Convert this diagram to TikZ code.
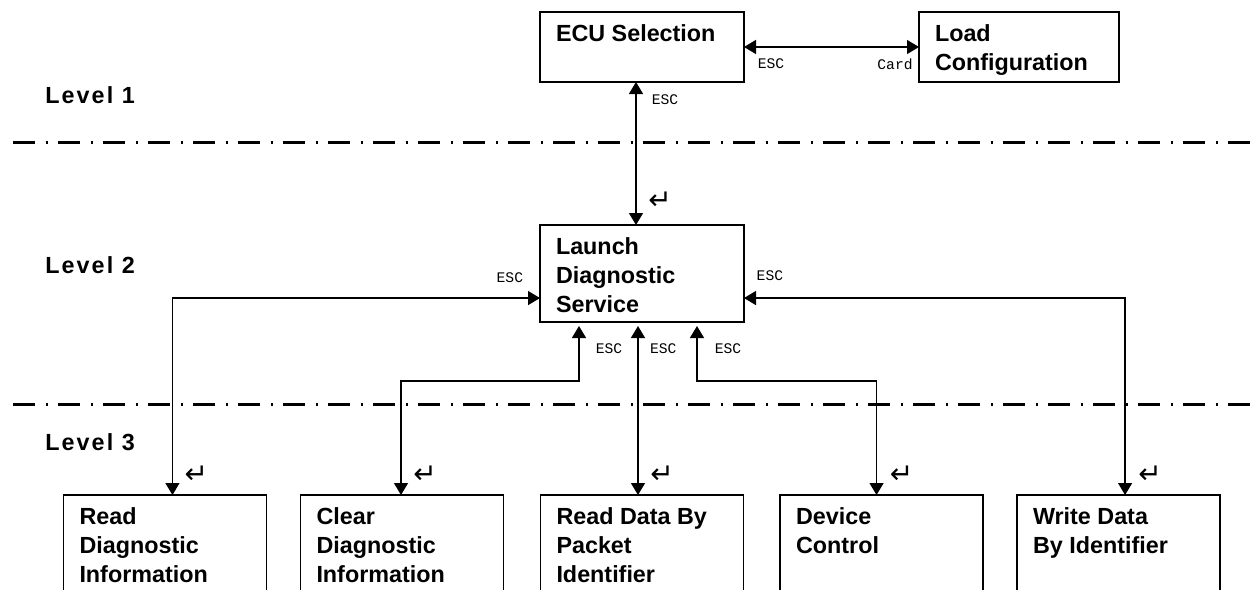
\documentclass[tikz,border=0pt]{standalone}
\usepackage{fontspec}
\setmainfont{Liberation Sans}
\newfontfamily\escfont{Liberation Mono}
\newfontfamily\retfont{DejaVu Sans}
\newfontfamily\levelfont[LetterSpace=9]{Liberation Sans}
\usetikzlibrary{arrows.meta, positioning}
\tikzset{
    box/.style={draw, line width=1pt, inner xsep=12pt, inner ysep=6.75pt, outer sep=0pt,
        font=\fontsize{17.5}{21.75}\selectfont\bfseries},
    link/.style={{Triangle[length=9pt,width=10.5pt]}-{Triangle[length=9pt,width=10.5pt]}, line width=1pt},
    esc/.style={inner sep=0pt, font=\escfont\fontsize{11}{11}\selectfont},
    ret/.style={inner sep=0pt, font=\retfont\fontsize{21}{21}\selectfont},
    level/.style={anchor=west, inner sep=0pt, font=\levelfont\fontsize{17.5}{21.75}\selectfont\bfseries},
    sep/.style={line width=2.25pt, dash pattern=on 16.5pt off 8pt on 1.5pt off 7.75pt}
}
\newcommand{\boxtext}[3]{\parbox[t][#1][t]{#2}{\strut #3}}

\begin{document}
\begin{tikzpicture}[x=0.75pt, y=-0.75pt]
    \useasboundingbox (0,0) rectangle (1256,589);
    \clip (0,0) rectangle (1256,589);

    \draw[sep] (13,142) -- (1256,142);
    \draw[sep] (13,404) -- (1256,404);
    \node[level] (lv1) at (45,95)  {Level 1};
    \node[level] (lv2) at (45,265) {Level 2};
    \node[level] (lv3) at (45,442) {Level 3};

    \node[box, anchor=north west] (ecu) at (540,12)  {\boxtext{39pt}{129pt}{ECU Selection}};
    \node[box, right=131.25pt of ecu]                (load)   {\boxtext{39pt}{126pt}{Load\\Configuration}};
    \node[box, below=107.25pt of ecu]                (launch) {\boxtext{59.25pt}{129pt}{Launch\\Diagnostic\\Service}};
    \node[box, below=129.75pt of launch]             (rdp)    {\boxtext{84pt}{128.25pt}{Read Data By\\Packet\\Identifier}};
    \node[box, left=27.75pt of rdp]                  (cdi)    {\boxtext{84pt}{128.25pt}{Clear\\Diagnostic\\Information}};
    \node[box, left=25.5pt of cdi]                   (rdi)    {\boxtext{84pt}{128.25pt}{Read\\Diagnostic\\Information}};
    \node[box, right=27.4pt of rdp]                  (dc)     {\boxtext{84pt}{128.25pt}{Device\\Control}};
    \node[box, right=25.5pt of dc]                   (wdi)    {\boxtext{84pt}{128.25pt}{Write Data\\By Identifier}};

    \draw[link] (ecu.east) -- node[esc, pos=0.154, yshift=-12.75pt] (e1) {ESC}
                              node[esc, pos=0.863, yshift=-12.75pt] (c1) {Card} (load.west);
    \draw[link] ([xshift=-4.5pt]ecu.south) -- node[esc, pos=0.125, xshift=21.75pt] (e2) {ESC}
                                              node[ret, pos=0.833, xshift=18pt] (r2) {↵} ([xshift=-4.5pt]launch.north);
    \draw[link] ([yshift=-18.4pt]launch.west) -| node[esc, pos=0.041, yshift=15pt] (e3) {ESC}
                                                 node[ret, pos=0.949, xshift=18pt] (r3) {↵} ([xshift=5.6pt]rdi.north);
    \draw[link] ([yshift=-18.4pt]launch.east) -| node[esc, pos=0.034, yshift=16.5pt] (e4) {ESC}
                                                 node[ret, pos=0.949, xshift=18.75pt] (r4) {↵} ([xshift=4.9pt]wdi.north);
    \draw[link, shorten <=3pt] ([xshift=-47.25pt]launch.south) -- node[esc, pos=0.46, xshift=22.5pt] (e5) {ESC} ++(0,59)
                                                                -| node[ret, pos=0.912, xshift=18pt] (r5) {↵} ([xshift=-0.75pt]cdi.north);
    \draw[link, shorten <=3pt] ([xshift=-3pt]launch.south) -- node[esc, pos=0.156, xshift=19pt] (e6) {ESC}
                                                              node[ret, pos=0.884, xshift=18pt] (r6) {↵} ([xshift=-3pt]rdp.north);
    \draw[link, shorten <=3pt] ([xshift=41.25pt]launch.south) -- node[esc, pos=0.46, xshift=23.25pt] (e7) {ESC} ++(0,59)
                                                                -| node[ret, pos=0.912, xshift=18.75pt] (r7) {↵} ([xshift=-3.75pt]dc.north);
\end{tikzpicture}
\end{document}
